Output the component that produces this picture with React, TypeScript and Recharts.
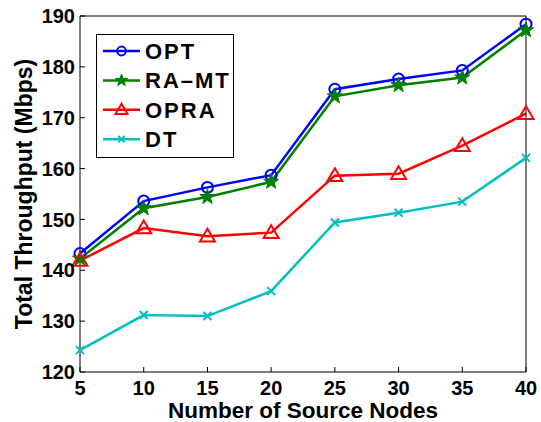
import { Label, Legend, Line, LineChart, XAxis, YAxis } from "recharts";

const nodes = [5, 10, 15, 20, 25, 30, 35, 40];
const optValues = [143.3, 153.6, 156.3, 158.7, 175.6, 177.6, 179.3, 188.4];
const raMtValues = [142.3, 152.2, 154.4, 157.4, 174.2, 176.4, 177.9, 187.2];
const opraValues = [141.9, 148.3, 146.7, 147.4, 158.6, 159.0, 164.5, 170.8];
const dtValues = [124.3, 131.2, 131.0, 135.9, 149.4, 151.3, 153.5, 162.1];
const yTicks = [120, 130, 140, 150, 160, 170, 180, 190];

const FONT = '"Liberation Sans", Arial, Helvetica, sans-serif';

type MarkerKind = "circle" | "star" | "triangle" | "cross";

const series: { key: string; name: string; color: string; marker: MarkerKind }[] = [
  { key: "opt", name: "OPT", color: "#0000ff", marker: "circle" },
  { key: "raMt", name: "RA–MT", color: "#007f00", marker: "star" },
  { key: "opra", name: "OPRA", color: "#ff0000", marker: "triangle" },
  { key: "dt", name: "DT", color: "#00bfbf", marker: "cross" },
];

const data = nodes.map((n, i) => ({
  n,
  opt: optValues[i],
  raMt: raMtValues[i],
  opra: opraValues[i],
  dt: dtValues[i],
}));

function starPoints(cx: number, cy: number, r: number) {
  const pts: string[] = [];
  for (let i = 0; i < 10; i++) {
    const rad = i % 2 === 0 ? r : r * 0.4;
    const a = -Math.PI / 2 + (i * Math.PI) / 5;
    pts.push(`${cx + rad * Math.cos(a)},${cy + rad * Math.sin(a)}`);
  }
  return pts.join(" ");
}

function Marker({ kind, color, cx, cy, s = 1 }: { kind: MarkerKind; color: string; cx: number; cy: number; s?: number }) {
  if (cx == null || cy == null) return null;
  if (kind === "circle") {
    return <circle cx={cx} cy={cy} r={5.5 * s} fill="none" stroke={color} strokeWidth={2} />;
  }
  if (kind === "star") {
    return <polygon points={starPoints(cx, cy, 8 * s)} fill={color} stroke={color} strokeWidth={1} />;
  }
  if (kind === "triangle") {
    const h = 7.5 * s;
    const w = 7.5 * s;
    return (
      <polygon
        points={`${cx},${cy - h} ${cx - w},${cy + h * 0.7} ${cx + w},${cy + h * 0.7}`}
        fill="none"
        stroke={color}
        strokeWidth={2}
      />
    );
  }
  const d = 4 * s;
  return (
    <g stroke={color} strokeWidth={2}>
      <line x1={cx - d} y1={cy - d} x2={cx + d} y2={cy + d} />
      <line x1={cx - d} y1={cy + d} x2={cx + d} y2={cy - d} />
    </g>
  );
}

const makeDot = (kind: MarkerKind, color: string) => (props: any) => (
  <Marker key={`${kind}-${props.index}`} kind={kind} color={color} cx={props.cx} cy={props.cy} />
);

const renderLegend = () => (
  <svg width={138} height={124} style={{ display: "block" }}>
    <rect x={0.5} y={0.5} width={137} height={123} fill="#fff" stroke="#000" strokeWidth={1} />
    {series.map((s, i) => {
      const cy = 17 + i * 29.4;
      return (
        <g key={s.key}>
          <line x1={7} x2={44} y1={cy} y2={cy} stroke={s.color} strokeWidth={2.5} />
          <Marker kind={s.marker} color={s.color} cx={25.5} cy={cy} s={0.8} />
          <text
            x={49}
            y={cy}
            dy="0.36em"
            fontFamily={FONT}
            fontWeight="bold"
            fontSize={22}
            letterSpacing={2}
            fill="#000"
          >
            {s.name}
          </text>
        </g>
      );
    })}
  </svg>
);

const tickStyle = { fill: "#000", fontSize: 20, fontWeight: "bold", fontFamily: FONT };

export default function App() {
  return (
    <div style={{ position: "absolute", left: 0, top: 0, background: "#fff" }}>
      <LineChart
        width={541}
        height={422}
        data={data}
        margin={{ top: 15, right: 14, bottom: 0, left: 0 }}
        style={{ fontFamily: FONT }}
      >
        <XAxis
          dataKey="n"
          type="number"
          domain={[5, 40]}
          ticks={nodes}
          interval={0}
          height={50}
          stroke="#000"
          tickSize={-5}
          tickMargin={14}
          tick={tickStyle}
        >
          <Label
            content={() => (
              <text
                x={303}
                y={418}
                textAnchor="middle"
                fontFamily={FONT}
                fontWeight="bold"
                fontSize={22.5}
                fill="#000"
              >
                Number of Source Nodes
              </text>
            )}
          />
        </XAxis>
        <XAxis
          xAxisId="top"
          orientation="top"
          dataKey="n"
          type="number"
          domain={[5, 40]}
          ticks={nodes}
          interval={0}
          height={1}
          stroke="#000"
          tickSize={-5}
          tick={false}
        />
        <YAxis
          type="number"
          domain={[120, 190]}
          ticks={yTicks}
          interval={0}
          width={80}
          stroke="#000"
          tickSize={-5}
          tickMargin={10}
          tick={tickStyle}
        >
          <Label
            content={() => (
              <text
                x={32}
                y={194}
                transform="rotate(-90 32 194)"
                textAnchor="middle"
                fontFamily={FONT}
                fontWeight="bold"
                fontSize={23}
                fill="#000"
              >
                Total Throughput (Mbps)
              </text>
            )}
          />
        </YAxis>
        <YAxis
          yAxisId="right"
          orientation="right"
          type="number"
          domain={[120, 190]}
          ticks={yTicks}
          interval={0}
          width={1}
          stroke="#000"
          tickSize={-5}
          tick={false}
        />
        <Legend
          content={renderLegend}
          layout="vertical"
          align="center"
          verticalAlign="middle"
          wrapperStyle={{ left: 96, top: 34, width: 138, height: 124 }}
        />
        <Line
          xAxisId="top"
          yAxisId="right"
          dataKey="opt"
          stroke="none"
          dot={false}
          activeDot={false}
          legendType="none"
          isAnimationActive={false}
        />
        {series.map((s) => (
          <Line
            key={s.key}
            dataKey={s.key}
            name={s.name}
            stroke={s.color}
            strokeWidth={2.5}
            dot={makeDot(s.marker, s.color)}
            activeDot={false}
            isAnimationActive={false}
          />
        ))}
      </LineChart>
    </div>
  );
}
